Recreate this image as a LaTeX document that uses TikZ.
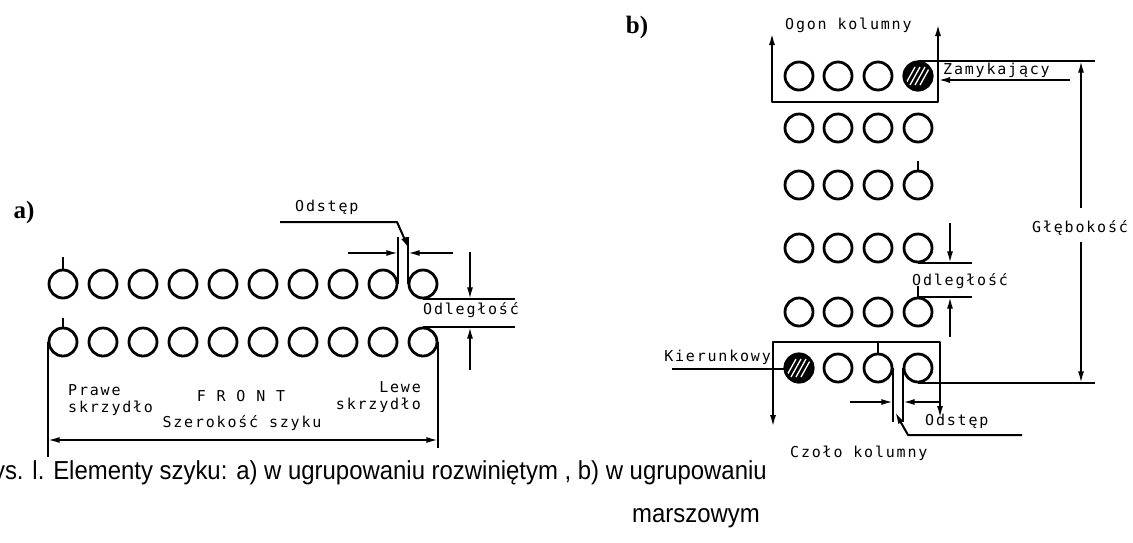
\documentclass[tikz,border=0pt]{standalone}
\usepackage{fontspec}
\setmainfont{Liberation Serif}
\newfontfamily\labfont[LetterSpace=12]{DejaVu Sans Mono}
\newfontfamily\capfont[FakeStretch=0.92]{Liberation Sans}
\usetikzlibrary{arrows.meta}

\tikzset{
  man/.style={circle,draw,line width=2.8pt,inner sep=0pt,minimum size=28pt},
  lbl/.style={font=\labfont\fontsize{15}{15}\selectfont,inner sep=0pt},
  dim/.style={line width=2pt},
  tip/.style={-{Latex[length=12pt,width=6pt]}},
  tips/.style={{Latex[length=12pt,width=6pt]}-{Latex[length=12pt,width=6pt]}},
  hatch/.style={fill=black,path picture={
    \foreach \k in {-8,-3,2,7}
      \draw[white,line width=1.3pt] ([shift={(\k-5,9)}]path picture bounding box.center) -- ++(10,-18);}},
  part/.style={font=\bfseries\fontsize{25}{25}\selectfont,inner sep=0pt},
  captxt/.style={font=\capfont\fontsize{26}{26}\selectfont,inner sep=0pt},
}

\begin{document}
\begin{tikzpicture}[x=1pt,y=-1pt,line join=bevel]
\useasboundingbox (0,0) rectangle (1133,542);
%% a) ugrupowanie rozwiniete
\node[part] (pa) at (24,212) {a)};
\foreach \i in {1,...,10} {
  \node[man] (at\i) at ({63+40*(\i-1)},284) {};
  \node[man] (ab\i) at ({63+40*(\i-1)},342) {};
}
\draw[dim] (at1.north) -- ++(0,-12);
\draw[dim] (ab1.north) -- ++(0,-9);
% Edge: szerokosc szyku
\coordinate (wl) at (50,457);
\coordinate (wr) at (438,448);
\coordinate (wy) at (0,440);
\draw[dim] (ab1.west) -- (ab1.west |- wl);
\draw[dim] (ab10.east) -- (ab10.east |- wr);
\draw[dim,tips] (ab1.west |- wy) -- (ab10.east |- wy);
\node[lbl,anchor=west] (prawe) at (68,390) {Prawe};
\node[lbl,anchor=west] (skrp) at (68,408) {skrzydło};
\node[lbl] (front) at (241,396) {F R O N T};
\node[lbl,anchor=east] (lewe) at (421,387) {Lewe};
\node[lbl,anchor=east] (skrl) at (421,405) {skrzydło};
\node[lbl] (szer) at (242,423) {Szerokość szyku};
% Edge: odstep
\draw[dim] (at9.east) -- ++(0,-47);
\draw[dim] (at10.west) -- ++(0,-47);
\coordinate (oa1) at (348,253);
\coordinate (oa2) at (453,253);
\draw[dim,tip] (oa1) -- (oa1 -| at9.east);
\draw[dim,tip] (oa2) -- (oa2 -| at10.west);
\node[lbl,anchor=west] (odsa) at (295,207) {Odstęp};
\coordinate (oa3) at (280,222);
\coordinate (oa4) at (397,222);
\coordinate (oa5) at (409,249);
\draw[dim,tip] (oa3) -- (oa4) -- (oa5);
% Edge: odleglosc
\coordinate (da1) at (515,298);
\coordinate (da2) at (515,328);
\draw[dim] (at10.south) -- (at10.south -| da1);
\draw[dim] (ab10.north) -- (ab10.north -| da2);
\coordinate (da3) at (470,252);
\coordinate (da4) at (470,370);
\draw[dim,tip] (da3) -- (da3 |- at10.south);
\draw[dim,tip] (da4) -- (da4 |- ab10.north);
\node[lbl,anchor=west] (odla) at (423,310) {Odległość};
%% b) ugrupowanie marszowe
\node[part] (pb) at (637,27) {b)};
\foreach \r/\y in {1/76,2/128,3/185,4/248,5/312,6/368}
  \foreach \c/\x in {1/799,2/838,3/878,4/918}
    \node[man] (b\r\c) at (\x,\y) {};
\node[man,hatch] (zam) at (b14) {};
\node[man,hatch] (kier) at (b61) {};
% Edge: ogon kolumny
\coordinate (ot1) at (772,33);
\coordinate (ot2) at (772,102);
\coordinate (ot3) at (938,102);
\coordinate (ot4) at (938,24);
\draw[dim,tips] (ot1) -- (ot2) -- (ot3) -- (ot4);
\node[lbl,anchor=west] (ogon) at (785,25) {Ogon kolumny};
% Edge: zamykajacy
\coordinate (gl1) at (1095,62);
\draw[dim] (zam.north) -- (zam.north -| gl1);
\coordinate (zm1) at (1070,80);
\coordinate (zm2) at (938,80);
\draw[dim,tip] (zm1) -- (zm2);
\node[lbl,anchor=west] (zamt) at (943,70) {Zamykający};
% Edge: glebokosc
\coordinate (gl2) at (1095,382);
\draw[dim] (b64.south) -- (b64.south -| gl2);
\coordinate (gl3) at (1081,208);
\coordinate (gl4) at (1081,242);
\draw[dim,tip] (gl3) -- (gl3 |- zam.north);
\draw[dim,tip] (gl4) -- (gl4 |- b64.south);
\node[lbl,anchor=west] (glebt) at (1032,228) {Głębokość};
\draw[dim] (b34.north) -- ++(0,-9);
% Edge: odleglosc
\coordinate (db1) at (972,262);
\coordinate (db2) at (972,298);
\draw[dim] (b44.south) -- (b44.south -| db1);
\draw[dim] (b54.north) -- (b54.north -| db2);
\coordinate (db3) at (950,223);
\coordinate (db4) at (950,337);
\draw[dim,tip] (db3) -- (db3 |- b44.south);
\draw[dim,tip] (db4) -- (db4 |- b54.north);
\draw[dim] (b54.north) -- ++(0,-11);
\node[lbl,anchor=west] (odlb) at (912,281) {Odległość};
% Edge: czolo kolumny
\coordinate (cz1) at (773,427);
\coordinate (cz2) at (773,342);
\coordinate (cz3) at (940,342);
\coordinate (cz4) at (940,418);
\draw[dim,tips] (cz1) -- (cz2) -- (cz3) -- (cz4);
\draw[dim] (b63.north) -- (b63.north |- cz2);
\node[lbl,anchor=west] (czolo) at (790,453) {Czoło kolumny};
% Edge: kierunkowy
\node[lbl,anchor=east] (kiert) at (771,357) {Kierunkowy};
\coordinate (kr1) at (672,369);
\draw[dim] (kr1) -- (kr1 -| kier.west);
% Edge: odstep
\draw[dim] (b63.east) -- ++(0,54);
\draw[dim] (b64.west) -- ++(0,54);
\coordinate (ob1) at (850,402);
\coordinate (ob2) at (940,402);
\draw[dim,tip] (ob1) -- (ob1 -| b63.east);
\draw[dim,tip] (ob2) -- (ob2 -| b64.west);
\coordinate (ob3) at (1022,435);
\coordinate (ob4) at (908,435);
\coordinate (ob5) at (895,412);
\draw[dim,tip] (ob3) -- (ob4) -- (ob5);
\node[lbl,anchor=west] (odsb) at (925,421) {Odstęp};
%% podpis
\node[captxt,anchor=east] (cap1) at (767,473)
  {Rys. l. Elementy szyku: a) w ugrupowaniu rozwiniętym , b) w ugrupowaniu};
\node[captxt,anchor=east] (cap2) at (760,518) {marszowym};
\end{tikzpicture}
\end{document}
